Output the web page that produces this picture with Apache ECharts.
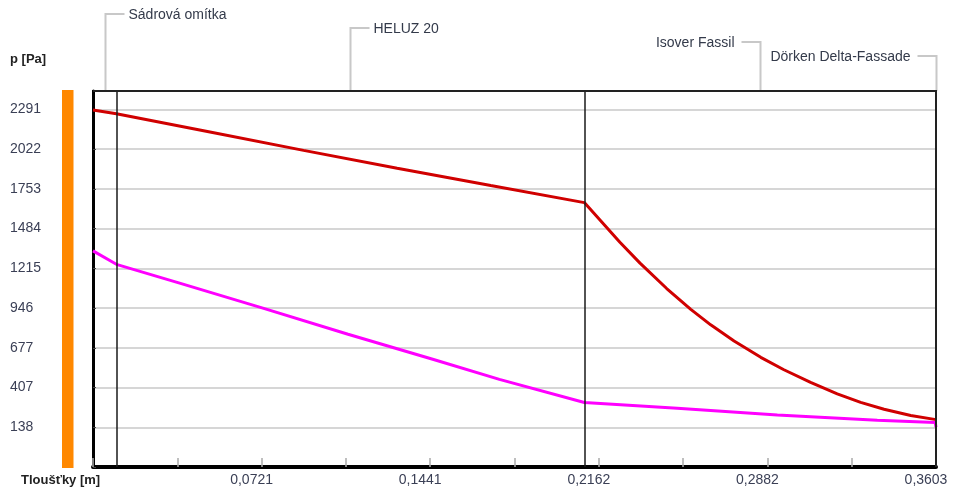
<!DOCTYPE html>
<html>
<head>
<meta charset="utf-8">
<script src="https://cdn.jsdelivr.net/npm/echarts@6/dist/echarts.min.js"></script>
<style>
  html, body { margin: 0; padding: 0; background: #fff; }
  #chart { width: 954px; height: 490px; }
</style>
</head>
<body>
<div id="chart"></div>
<script>
// Wall layers from the interior to the exterior, thickness in metres
const layerNames = ['Sádrová omítka', 'HELUZ 20', 'Isover Fassil', 'Dörken Delta-Fassade'];
const layerThickness = [0.01, 0.2, 0.15, 0.0003];

// Saturated water-vapour pressure through the wall
const pSatDepth  = [0, 0.01, 0.05, 0.09, 0.13, 0.17, 0.21,
                    0.2164, 0.2252, 0.2338, 0.2452, 0.2555, 0.264, 0.274, 0.2854, 0.2953, 0.3067,
                    0.3181, 0.3281, 0.3381, 0.3495, 0.3603];
const pSatValues = [2288, 2262, 2138, 2014, 1893, 1776, 1660,
                    1548, 1392, 1250, 1078, 937, 832, 723, 612, 528, 442,
                    365, 307, 260, 218, 190];

// Partial water-vapour pressure through the wall
const pDepth  = [0, 0.01, 0.0363, 0.0719, 0.109, 0.1452, 0.1737, 0.21, 0.2497, 0.2925, 0.3352, 0.36, 0.3603];
const pValues = [1333, 1242, 1118, 949, 768, 599, 463, 306, 267, 222, 186, 170, 138];

// Axis tick labels
const yTickLabels = ['138', '407', '677', '946', '1215', '1484', '1753', '2022', '2291'];
const xTickLabels = ['0,0721', '0,1441', '0,2162', '0,2882', '0,3603'];

// Pressure scale: evenly spaced ticks, one extra step below the lowest one
const yFirstTick = 138.3;
const yStep = 269.13;
const yMin = yFirstTick - yStep;
const yMax = 2416;
// Thickness scale
const xStep = 0.03603;
const xMax = 0.3603;

const FONT = '"Liberation Sans", Arial, sans-serif';

const toPairs = (xs, ys) => xs.map((x, i) => [x, ys[i]]);

// Layer boundaries (cumulative thickness)
const boundaries = [];
layerThickness.reduce((acc, t, i) => {
  const b = acc + t;
  if (i < layerThickness.length - 1) boundaries.push(b);
  return b;
}, 0);

const option = {
  animation: false,
  backgroundColor: '#fff',
  grid: {
    left: 93, right: 18, top: 91, bottom: 23,
    show: true, borderColor: '#222', borderWidth: 2, backgroundColor: 'transparent'
  },
  xAxis: {
    type: 'value',
    min: 0, max: xMax, interval: xStep,
    axisLine: { onZero: false, lineStyle: { color: '#000', width: 4 } },
    axisTick: { inside: true, length: 9, lineStyle: { color: '#aaa', width: 1.5 } },
    splitLine: { show: false },
    axisLabel: {
      showMinLabel: true, showMaxLabel: true,
      margin: 6,
      padding: [0, 20, 0, 0],
      color: '#3a3f55', fontSize: 14, fontFamily: FONT,
      formatter: v => {
        const idx = Math.round(v / xStep);
        if (idx > 0 && idx % 2 === 0 && Math.abs(v - idx * xStep) < xStep / 10) {
          return xTickLabels[idx / 2 - 1] || '';
        }
        return '';
      }
    }
  },
  yAxis: {
    type: 'value',
    min: yMin, max: yMax, interval: yStep,
    axisLine: { onZero: false, lineStyle: { color: '#000', width: 3 } },
    axisTick: { inside: true, length: 3, lineStyle: { color: '#444', width: 1 } },
    splitLine: { lineStyle: { color: '#c8c8c8', width: 1.5 } },
    axisLabel: {
      showMinLabel: true, showMaxLabel: true,
      align: 'left', margin: 83,
      color: '#3a3f55', fontSize: 14, fontFamily: FONT,
      formatter: v => {
        const idx = Math.round((v - yFirstTick) / yStep);
        if (idx >= 0 && idx < yTickLabels.length && Math.abs(v - (yFirstTick + idx * yStep)) < 1) {
          return yTickLabels[idx];
        }
        return '';
      }
    }
  },
  series: [
    {
      // layer boundaries
      type: 'line', data: [], silent: true, z: 1,
      markLine: {
        silent: true, symbol: ['none', 'none'], label: { show: false },
        lineStyle: { color: '#1a1a1a', width: 1.5, type: 'solid' },
        data: boundaries.map(b => ({ xAxis: b }))
      }
    },
    {
      name: 'p_sat', type: 'line', z: 3,
      data: toPairs(pSatDepth, pSatValues),
      showSymbol: false, smooth: false,
      lineStyle: { color: '#d00000', width: 3 }
    },
    {
      name: 'p', type: 'line', z: 4,
      data: toPairs(pDepth, pValues),
      showSymbol: false, smooth: false,
      lineStyle: { color: '#ff00ff', width: 3 }
    }
  ]
};

const chart = echarts.init(document.getElementById('chart'), null, { renderer: 'canvas' });
chart.setOption(option);

// Decorations positioned from the axes: layer name leaders, side bar, frame, axis titles
const px = (x, y) => chart.convertToPixel({ gridIndex: 0 }, [x, y]);
const topY = px(0, yMax)[1];
const botY = px(0, yMin)[1];
const leftX = px(0, yMin)[0];
const rightX = px(xMax, yMin)[0];
const midX = (leftX + rightX) / 2;

const graphics = [];
let start = 0;
layerNames.forEach((name, i) => {
  const centre = start + layerThickness[i] / 2;
  start += layerThickness[i];
  const cx = Math.round(px(centre, yMax)[0]) + 0.5;
  const ly = 14 + 14 * i;
  const dir = cx > midX ? -1 : 1;
  graphics.push({
    type: 'polyline', silent: true, z: 10,
    shape: { points: [[cx, topY], [cx, ly], [cx + dir * 19, ly]] },
    style: { stroke: '#c8c8c8', lineWidth: 2, fill: null }
  });
  graphics.push({
    type: 'text', silent: true, z: 10,
    x: cx + dir * (dir > 0 ? 23 : 26), y: ly + 1,
    style: {
      text: name, fill: '#333a4a', fontSize: 14, fontFamily: FONT,
      align: dir > 0 ? 'left' : 'right', verticalAlign: 'middle'
    }
  });
});

// top and right edges of the plot frame, kept above the grid lines
graphics.push({
  type: 'polyline', silent: true, z: 20,
  shape: { points: [[leftX, topY], [rightX, topY], [rightX, botY]] },
  style: { stroke: '#222', lineWidth: 2, fill: null }
});

graphics.push({
  type: 'rect', silent: true,
  shape: { x: 62, y: topY - 1, width: 11.5, height: botY - topY + 2 },
  style: { fill: '#ff8800' }
});
graphics.push({
  type: 'text', silent: true, x: 10, y: 59,
  style: { text: 'p [Pa]', fill: '#222', fontSize: 13, fontWeight: 'bold', fontFamily: FONT, verticalAlign: 'middle' }
});
graphics.push({
  type: 'text', silent: true, x: 21, y: 480,
  style: { text: 'Tloušťky [m]', fill: '#222', fontSize: 13, fontWeight: 'bold', fontFamily: FONT, verticalAlign: 'middle' }
});

chart.setOption({ graphic: graphics });
</script>
</body>
</html>
